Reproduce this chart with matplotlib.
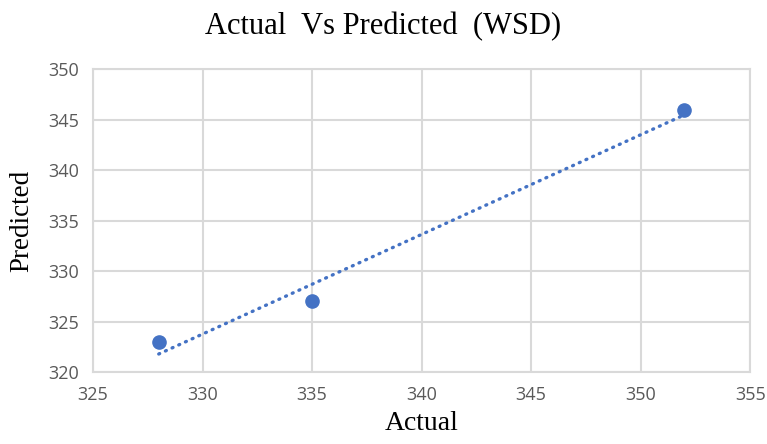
import numpy as np
import matplotlib
matplotlib.use("Agg")
import matplotlib.pyplot as plt

actual = [328, 335, 352]
predicted = [323, 327, 346]
x_ticks = [325, 330, 335, 340, 345, 350, 355]
y_ticks = [320, 325, 330, 335, 340, 345, 350]

blue = "#4472C4"
grid_c = "#D9D9D9"
tick_c = "#595959"

fig = plt.figure(figsize=(7.67, 4.44), dpi=100)
ax = fig.add_axes([0.1213, 0.162, 0.978 - 0.1213, 0.8435 - 0.162])

ax.set_xlim(325, 355)
ax.set_ylim(320, 350)
ax.set_xticks(x_ticks)
ax.set_yticks(y_ticks)
ax.grid(True, color=grid_c, linewidth=1.5)
ax.set_axisbelow(True)
for s in ax.spines.values():
    s.set_color(grid_c)
    s.set_linewidth(1.5)
ax.tick_params(length=0, pad=10, labelsize=13, colors=tick_c)
for lab in ax.get_xticklabels() + ax.get_yticklabels():
    lab.set_fontfamily("Open Sans")

# linear trendline
coef = np.polyfit(actual, predicted, 1)
xs = np.array([min(actual), max(actual)])
ax.plot(xs, np.polyval(coef, xs), color=blue, linewidth=2.4,
        linestyle=(0, (0.3, 1.9)), dash_capstyle="round", zorder=2)

ax.plot(actual, predicted, "o", color=blue, markersize=9.5, zorder=3)

fig.text(0.5, 0.94, "Actual  Vs Predicted  (WSD)", ha="center", va="center",
         fontsize=22, family="Liberation Serif", color="black")
ax.set_xlabel("Actual", fontsize=20, family="Liberation Serif", color="black", labelpad=5)
ax.set_ylabel("Predicted", fontsize=19.5, family="Liberation Serif", color="black", labelpad=10)

fig.savefig("out.png", dpi=100)
